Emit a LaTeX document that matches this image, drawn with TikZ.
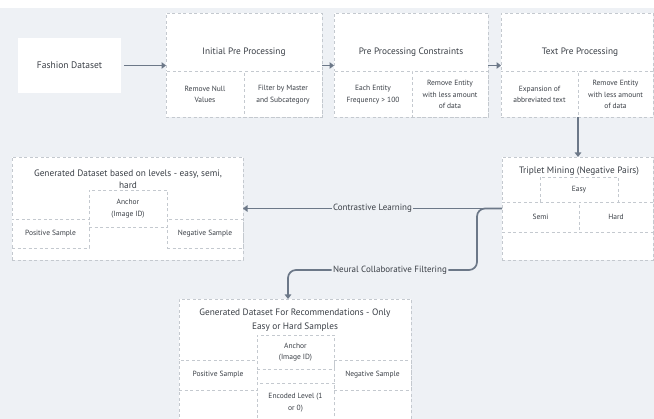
\documentclass[tikz,border=0pt]{standalone}
\usepackage{fontspec}
\setmainfont{PT Sans}
\usepackage{tikz}
\usetikzlibrary{
  arrows.meta,
  calc,
  positioning
}
\definecolor{canvasgray}{RGB}{238,241,245}
\definecolor{dashgray}{RGB}{196,201,207}
\definecolor{flowslate}{RGB}{108,120,136}
\definecolor{textgray}{RGB}{58,63,70}

\begin{document}
\begin{tikzpicture}[
  x=1pt, y=-1pt,
  every node/.style={text=textgray, inner sep=0pt, outer sep=0pt},
  panel/.style={draw=dashgray, dash pattern=on 3pt off 2.5pt, line width=0.8pt, fill=white},
  cell/.style={panel, align=center, font=\fontsize{7.5}{11.5}\selectfont},
  head/.style={align=center, font=\fontsize{9.3}{12}\selectfont},
  tag/.style={font=\fontsize{9}{12}\selectfont, inner xsep=1.5pt},
  link/.style={line width=1.7pt, flowslate},
  arr/.style={link, -{Triangle[length=4.5pt, width=6.5pt]}}
]
  % canvas
  \clip (0,0) rectangle (654,419);
  \fill[white] (0,0) rectangle (654,8);
  \fill[canvasgray] (0,8) rectangle (654,419);

  % top row
  \node[fill=white, minimum width=103pt, minimum height=55pt, font=\fontsize{9.5}{12}\selectfont] (fash) at (69.5,65.5) {Fashion Dataset};
  \node[panel, minimum width=156pt, minimum height=104pt, right=45pt of fash] (init) {};
  \node[panel, minimum width=154pt, minimum height=104pt, right=12pt of init] (cons) {};
  \node[panel, minimum width=152pt, minimum height=104pt, right=13pt of cons] (tpp) {};

  \node[head] at ($(init.north)+(0,39)$) {Initial Pre Processing};
  \node[cell, minimum width=78pt, minimum height=46pt, anchor=south west] (init1) at (init.south west) {Remove Null\\Values};
  \node[cell, minimum width=78pt, minimum height=46pt, anchor=south east] (init2) at (init.south east) {Filter by Master\\and Subcategory};

  \node[head] at ($(cons.north)+(0,39)$) {Pre Processing Constraints};
  \node[cell, minimum width=78pt, minimum height=46pt, anchor=south west] (cons1) at (cons.south west) {Each Entity\\Frequency > 100};
  \node[cell, minimum width=76pt, minimum height=46pt, anchor=south east] (cons2) at (cons.south east) {Remove Entity\\with less amount\\of data};

  \node[head] at ($(tpp.north)+(3,39)$) {Text Pre Processing};
  \node[cell, minimum width=77pt, minimum height=46pt, anchor=south west] (tpp1) at (tpp.south west) {Expansion of\\abbreviated text};
  \node[cell, minimum width=75pt, minimum height=46pt, anchor=south east] (tpp2) at (tpp.south east) {Remove Entity\\with less amount\\of data};

  % triplet mining
  \node[panel, minimum width=151pt, minimum height=103pt, anchor=north west] (trip) at (502,157) {};
  \node[head] at (579,171) {Triplet Mining (Negative Pairs)};
  \node[cell, minimum width=78pt, minimum height=25pt] (easy) at (579,189.5) {Easy};
  \node[cell, minimum width=77pt, minimum height=30pt] (semi) at (540.5,217) {Semi};
  \node[cell, minimum width=74pt, minimum height=30pt] (hard) at (616,217) {Hard};

  % dataset by levels
  \node[panel, minimum width=231pt, minimum height=103pt, anchor=north west] (lev) at (12,157) {};
  \node[head] at (128,179) {Generated Dataset based on levels - easy, semi,\\hard};
  \node[cell, minimum width=77pt, minimum height=29pt] (levpos) at (50.5,233.5) {Positive Sample};
  \node[cell, minimum width=76pt, minimum height=29pt] (levneg) at (205,233.5) {Negative Sample};
  \node[cell, minimum width=78pt, minimum height=37pt] (levanc) at (128,208.5) {Anchor\\(Image ID)};

  % dataset for recommendations
  \node[panel, minimum width=232pt, minimum height=130pt, anchor=north west] (rec) at (179,299) {};
  \node[head, font=\fontsize{9.3}{14}\selectfont] at (295,320) {Generated Dataset For Recommendations - Only\\Easy or Hard Samples};
  \node[cell, minimum width=78pt, minimum height=30pt] (recpos) at (218,375) {Positive Sample};
  \node[cell, minimum width=77pt, minimum height=30pt] (recneg) at (372.5,375) {Negative Sample};
  \node[cell, minimum width=77pt, minimum height=34pt] (recanc) at (295.5,352) {Anchor\\(Image ID)};
  \node[cell, minimum width=77pt, minimum height=39pt] (recenc) at (295.5,402.5) {Encoded Level (1\\or 0)};

  % labels on the branches
  \node[tag] (cl) at (372.5,208.5) {Contrastive Learning};
  \node[tag] (ncf) at (390,270) {Neural Collaborative Filtering};

  % Arrows
  \draw[arr, shorten <=3pt] (fash) -- (init);
  \draw[arr] (init) -- (cons);
  \draw[arr] (cons) -- (tpp);
  \draw[arr] (tpp1.south east) -- (tpp1.south east |- trip.north);
  \draw[link] (trip.west) -- (cl.east);
  \draw[arr] (cl.west) -- (lev.east);
  \draw[link, rounded corners=8pt] (trip.west) -- ++(-25,0) |- (ncf.east);
  \draw[arr, rounded corners=8pt] (ncf.west) -| ([xshift=-7pt]rec.north);

\end{tikzpicture}
\end{document}
